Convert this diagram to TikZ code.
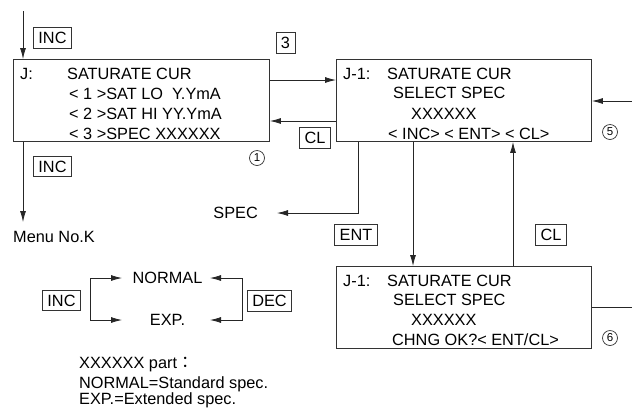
\documentclass[tikz,border=0pt]{standalone}
\usepackage{fontspec}
\setmainfont{Liberation Sans}
\newfontfamily\cjk{Noto Sans CJK JP}
\usetikzlibrary{arrows.meta}
\tikzset{
  ln/.style={line width=0.8pt, draw=black!85},
  arr/.style={ln, -{Latex[length=11pt,width=6pt]}},
  screen/.style={draw=black!80, line width=0.9pt, minimum width=256pt, minimum height=82pt, anchor=north west, inner sep=0pt},
  txt/.style={inner sep=0pt, anchor=base west, font=\fontsize{16.3}{19}\selectfont},
  lbl/.style={inner sep=0pt, text height=11.7pt, text depth=0pt, font=\fontsize{16.3}{19}\selectfont},
  key/.style={draw=black!80, line width=0.8pt, inner xsep=5pt, text height=11.7pt, text depth=0pt, inner ysep=4.5pt, font=\fontsize{16.3}{19}\selectfont},
  num/.style={circle, draw=black!80, line width=0.7pt, inner sep=0pt, minimum size=15pt, font=\fontsize{11.5}{11.5}\selectfont}
}
\begin{document}
\begin{tikzpicture}[x=1pt,y=-1pt]
\useasboundingbox (0,0) rectangle (632,408);
% screens
\node[screen] (b1) at (13,59) {};
\node[screen, minimum width=255pt] (b2) at (336,59) {};
\node[screen, minimum width=255pt] (b3) at (336,266) {};
% box 1 text
\node[txt] (t1a) at (20,79) {J:};
\node[txt] (t1b) at (67,79) {SATURATE CUR};
\node[txt] (t1c) at (69,99.5) {< 1 >SAT LO\ \ Y.YmA};
\node[txt] (t1d) at (69,119) {< 2 >SAT HI YY.YmA};
\node[txt] (t1e) at (69,139) {< 3 >SPEC XXXXXX};
% box 2 text
\node[txt] (t2a) at (343,79) {J-1:};
\node[txt] (t2b) at (387,79) {SATURATE CUR};
\node[txt] (t2c) at (393,98.5) {SELECT SPEC};
\node[txt] (t2d) at (411,119) {XXXXXX};
\node[txt] (t2e) at (388,139) {< INC> < ENT> < CL>};
% box 3 text
\node[txt] (t3a) at (343,286) {J-1:};
\node[txt] (t3b) at (387,286) {SATURATE CUR};
\node[txt] (t3c) at (393,305) {SELECT SPEC};
\node[txt] (t3d) at (411,325) {XXXXXX};
\node[txt] (t3e) at (392,345) {CHNG OK?< ENT/CL>};
% circled numbers
\node[num] (c1) at (257,158) {1};
\node[num] (c5) at (610,132) {5};
\node[num] (c6) at (610,338) {6};
% key labels
\node[key] (kinc1) at (52.5,38) {INC};
\node[key] (kinc2) at (52.5,166.5) {INC};
\node[key] (k3) at (285.5,43) {3};
\node[key] (kcl1) at (315,138) {CL};
\node[key] (kent) at (356,235) {ENT};
\node[key] (kcl2) at (551,235) {CL};
\node[key] (kinc3) at (61.5,300.5) {INC};
\node[key] (kdec) at (269.5,301) {DEC};
% other texts
\node[lbl, anchor=west] (menu) at (13,237) {Menu No.K};
\node[lbl, anchor=east] (spec) at (258,213) {SPEC};
\node[lbl] (normal) at (167.5,278) {NORMAL};
\node[lbl] (exp) at (167.5,320) {EXP.};
\node[txt] (n1) at (79,368.5) {XXXXXX part{\cjk ：}};
\node[txt] (n2) at (79,388) {NORMAL=Standard spec.};
\node[txt] (n3) at (79,404.2) {EXP.=Extended spec.};
% coordinates
\coordinate (tin) at (23,11);
\coordinate (tout) at (23,222);
\coordinate (rin) at (632,101);
\coordinate (rout) at (632,307);
\coordinate (lbm) at (90,299);
\coordinate (rbm) at (242,299);
% connectors
\draw[arr] (tin) -- (tin |- b1.north);
\draw[arr] (tin |- b1.south) -- (tout);
\draw[arr] (b1.east |- 0,80) -- (b2.west |- 0,80);
\draw[arr] (b2.west |- 0,121) -- (b1.east |- 0,121);
\draw[arr] (rin) -- (b2.east |- rin);
\draw[ln] (b3.east |- rout) -- (rout);
\draw[arr] (b2.south -| 358,0) |- ([xshift=19pt]spec.east);
\draw[arr] (b2.south -| 413,0) -- (b3.north -| 413,0);
\draw[arr] (b3.north -| 513,0) -- (b2.south -| 513,0);
\draw[arr] (lbm) |- (normal.west -| 122,0);
\draw[arr] (lbm) |- (exp.west -| 122,0);
\draw[arr] (rbm) |- (normal.east -| 210,0);
\draw[arr] (rbm) |- (exp.east -| 210,0);
\end{tikzpicture}
\end{document}
